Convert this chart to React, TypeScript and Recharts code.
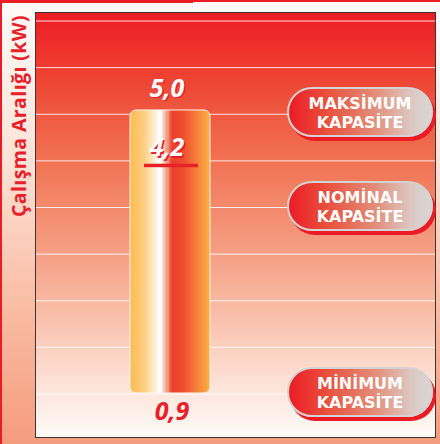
import React from 'react';
import { BarChart, Bar, XAxis, YAxis, CartesianGrid, ReferenceDot } from 'recharts';

// operating range of the unit (kW)
const categories = ['Çalışma Aralığı'];
const rangeMin = [0.9];
const rangeMax = [5.0];

// capacity levels: maximum, nominal, minimum
const levelValues = [5.0, 4.2, 0.9];
const levelLabels = ['5,0', '4,2', '0,9'];
const pillTitles = ['MAKSİMUM', 'NOMİNAL', 'MİNİMUM'];
const pillSubtitle = 'KAPASİTE';
const axisTitle = 'Çalışma Aralığı (kW)';

const data = categories.map((name, i) => ({ name, range: [rangeMin[i], rangeMax[i]] }));

const RED = '#e8202a';
const FONT = '"Open Sans", "Noto Sans", sans-serif';

const LevelMark = (props: any) => {
  const { cx, cy, index } = props;
  if (cx == null || cy == null) return <g />;
  const label = levelLabels[index];
  const textStyle = { fontFamily: FONT, fontWeight: 700, fontStyle: 'italic', fontSize: 25 } as const;

  if (index === 2) {
    // minimum sits under the bar, red text
    return (
      <text x={cx + 2} y={cy + 27} textAnchor="middle" fill={RED} style={textStyle}>{label}</text>
    );
  }
  const baseY = index === 0 ? cy - 13 : cy - 9;
  return (
    <g>
      <text x={cx - 1.5} y={baseY + 1.5} textAnchor="middle" fill={RED} style={textStyle}>{label}</text>
      <text x={cx - 3} y={baseY} textAnchor="middle" fill="#fff" style={textStyle}>{label}</text>
      {index === 1 && <rect x={cx - 26} y={cy - 1.5} width={54} height={3.5} fill={RED} />}
    </g>
  );
};

const AxisTitle = (props: any) => {
  const vb = props.viewBox || { x: 0, y: 13 };
  const x = vb.x + 18;
  const y = vb.y + 2;
  return (
    <text
      x={x}
      y={y}
      transform={`rotate(-90 ${x} ${y})`}
      textAnchor="end"
      dominantBaseline="central"
      fill={RED}
      style={{ fontFamily: FONT, fontWeight: 700, fontSize: 19.5, letterSpacing: 0.4 }}
    >
      {axisTitle}
    </text>
  );
};

const pillTops = [87, 181, 367];

export default function App() {
  return (
    <div
      style={{
        position: 'relative',
        width: 440,
        height: 444,
        overflow: 'hidden',
        background: 'linear-gradient(180deg, #fffaf8 0%, #fde3d8 35%, #f9bba2 70%, #f59c7e 100%)',
      }}
    >
      <style>{`body { margin: 0; }`}</style>

      {/* frame lines */}
      <div style={{ position: 'absolute', left: 0, top: 0, width: 193, height: 3, background: '#ec1c24' }} />
      <div style={{ position: 'absolute', left: 193, top: 0, width: 247, height: 2, background: '#ec1c24' }} />
      <div style={{ position: 'absolute', left: 0, top: 0, width: 2, height: 444, background: '#ec1c24' }} />

      {/* plot background */}
      <div
        style={{
          position: 'absolute',
          left: 35,
          top: 12,
          width: 401,
          height: 426,
          boxSizing: 'border-box',
          border: '1px solid #3f3230',
          background:
            'linear-gradient(180deg, #ed1c24 0%, #ee3a2e 12%, #ef5a42 24%, #f17254 35%, #f38a6c 46%, #f5a086 57%, #f8b8a0 68%, #fbd0c0 79%, #fde7de 90%, #fffaf7 100%)',
        }}
      />

      <div style={{ position: 'absolute', left: 0, top: 0 }}>
        <BarChart width={440} height={444} data={data} margin={{ top: 13, right: 5, bottom: 7, left: 0 }} barSize={80}>
          <defs>
            <linearGradient id="barFill" x1="0" y1="0" x2="1" y2="0">
              <stop offset="0%" stopColor="#fdbb4e" />
              <stop offset="18%" stopColor="#fecf84" />
              <stop offset="32%" stopColor="#fff0da" />
              <stop offset="36%" stopColor="#ffffff" />
              <stop offset="40%" stopColor="#ffffff" />
              <stop offset="40.5%" stopColor="#f9dccf" />
              <stop offset="44%" stopColor="#f6c0ad" />
              <stop offset="44.5%" stopColor="#f3a890" />
              <stop offset="48%" stopColor="#f09478" />
              <stop offset="48.5%" stopColor="#ee7a5e" />
              <stop offset="53%" stopColor="#ec3f2c" />
              <stop offset="66%" stopColor="#ef4c2e" />
              <stop offset="100%" stopColor="#fbb244" />
            </linearGradient>
          </defs>
          <CartesianGrid
            vertical={false}
            stroke="#ffffff"
            strokeOpacity={0.85}
            horizontalCoordinatesGenerator={({ offset }: any) =>
              Array.from({ length: 9 }, (_, i) => offset.top + 8 + (i * (offset.height - 51)) / 8)
            }
          />
          <XAxis dataKey="name" hide padding={{ left: 0, right: 131 }} />
          <YAxis
            type="number"
            width={36}
            domain={[0.2625, 6.405]}
            allowDataOverflow
            tick={false}
            tickLine={false}
            axisLine={false}
            label={(p: any) => <AxisTitle {...p} />}
          />
          <Bar dataKey="range" fill="url(#barFill)" stroke="#fff3ec" strokeWidth={1} radius={6} isAnimationActive={false} />
          {levelValues.map((v, i) => (
            <ReferenceDot
              key={i}
              x={categories[0]}
              y={v}
              r={0}
              shape={(p: any) => <LevelMark {...p} index={i} />}
            />
          ))}
        </BarChart>
      </div>

      {/* capacity callouts */}
      {pillTitles.map((t, i) => (
        <div
          key={t}
          style={{
            position: 'absolute',
            left: 287,
            top: pillTops[i],
            width: 146,
            height: 50,
            boxSizing: 'border-box',
            borderRadius: 25,
            border: '2px solid #d4d2d2',
            background: 'linear-gradient(90deg, #ec1c24 0%, #e9523e 28%, #e38c78 60%, #dcc6c0 85%, #d9d7d6 100%)',
            boxShadow: '3px 4px 0 #ec1c24',
            color: '#fff',
            fontFamily: '"DejaVu Sans", sans-serif',
            fontWeight: 700,
            fontSize: 16,
            lineHeight: '19px',
            textAlign: 'center',
            paddingTop: 5,
          }}
        >
          {t}
          <br />
          {pillSubtitle}
        </div>
      ))}
    </div>
  );
}
